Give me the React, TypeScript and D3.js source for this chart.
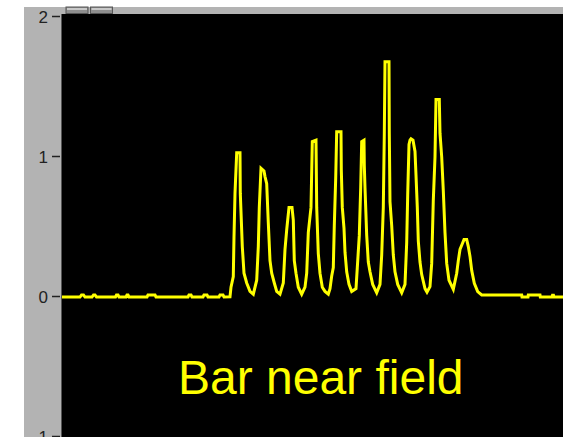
import React from "react";
import * as d3 from "d3";

// Axis ticks on the left panel
const yTicks = [2, 1, 0, -1];

// Trace samples: position along the scan and signal amplitude
const positions = [
  0, 18, 19.5, 21.5, 23, 30, 31.5, 33, 34.5, 53.5, 54.5, 56, 57, 64, 65, 66, 67, 85, 86, 93, 94,
  126, 127, 129, 130, 141, 142, 145, 146, 157, 158, 161, 162, 168,
  // peak 1
  169, 171.3, 172, 173, 174.7, 178, 178.3, 180.3, 182, 184.7, 188, 191.3,
  // peak 2
  194.7, 196.3, 197.3, 199, 202, 203, 204.7, 206.3, 208, 209.7, 212.3, 214.7, 218,
  // peak 3
  221.3, 223, 224.7, 225.7, 227, 230, 231.3, 232.3, 234, 236.3, 239.7,
  // peak 4
  243, 244.7, 246.3, 249, 250.3, 254, 254.7, 256.3, 258, 260.3, 263, 266.3,
  // peak 5
  268, 269.7, 271.3, 272.3, 273.7, 274.7, 279, 279.3, 280.3, 282, 283, 284.7, 287, 289.7,
  // peak 6
  294, 295.3, 297.3, 298.7, 299.7, 302, 302.3, 303, 304.7, 306.3, 308, 310.7, 314.7,
  // peak 7
  318, 319.7, 321.3, 322.3, 323, 327, 327.3, 328, 329.7, 331.3, 333, 335.7, 339.7,
  // peak 8
  343, 344.7, 345.7, 347, 348, 349, 351, 353, 354, 355.3, 356.3, 358, 359.7, 363, 365,
  // peak 9
  368, 369.7, 371.3, 373, 374, 377.3, 378, 379.7, 381.3, 383, 384.7, 387, 391.3,
  // peak 10
  394.7, 396.3, 398, 400.3, 402, 404.7, 406.3, 408, 409.7, 412.3, 415.7, 419.7,
  459.7, 460, 466, 466.3, 478, 478.3, 490, 490.5, 491.5, 492, 501,
];

const amplitudes = [
  0, 0, 0.015, 0.015, 0, 0, 0.015, 0.015, 0, 0, 0.015, 0.015, 0, 0, 0.015, 0.015, 0, 0, 0.015, 0.015, 0,
  0, 0.015, 0.015, 0, 0, 0.015, 0.015, 0, 0, 0.015, 0.015, 0, 0.002,
  0.07, 0.146, 0.43, 0.74, 1.03, 1.03, 0.74, 0.36, 0.17, 0.1, 0.04, 0.02,
  0.12, 0.36, 0.64, 0.92, 0.9, 0.86, 0.81, 0.53, 0.26, 0.17, 0.1, 0.04, 0.02,
  0.1, 0.34, 0.48, 0.55, 0.64, 0.64, 0.55, 0.26, 0.17, 0.07, 0.02,
  0.07, 0.17, 0.46, 0.64, 1.11, 1.12, 0.64, 0.31, 0.17, 0.07, 0.04, 0.02,
  0.06, 0.15, 0.21, 0.51, 0.85, 1.18, 1.18, 0.91, 0.64, 0.49, 0.32, 0.18, 0.09, 0.04,
  0.06, 0.21, 0.44, 0.78, 1.11, 1.12, 0.94, 0.78, 0.44, 0.25, 0.18, 0.09, 0.03,
  0.09, 0.3, 0.64, 1.16, 1.68, 1.68, 1.17, 0.68, 0.51, 0.3, 0.18, 0.09, 0.03,
  0.09, 0.39, 0.73, 1.09, 1.12, 1.13, 1.12, 1.04, 0.87, 0.64, 0.4, 0.25, 0.16, 0.06, 0.035,
  0.074, 0.24, 0.69, 1.0, 1.41, 1.41, 1.17, 1.0, 0.76, 0.46, 0.24, 0.12, 0.055,
  0.17, 0.26, 0.34, 0.38, 0.41, 0.41, 0.36, 0.29, 0.19, 0.098, 0.038, 0.015,
  0.015, 0, 0, 0.015, 0.015, 0, 0, 0.012, 0.012, 0, 0,
];

const title = "Bar near field";

const W = 563;
const H = 437;
const plotLeft = 62;
const plotTop = 14;

export default function App() {
  const x = d3.scaleLinear().domain([0, 501]).range([plotLeft, W]);
  const y = d3.scaleLinear().domain([-1, 2]).range([437, 17]);

  const data = positions.map((p, i) => [p, amplitudes[i]] as [number, number]);
  const path = d3
    .line<[number, number]>()
    .x((d) => x(d[0]))
    .y((d) => y(d[1]))
    .curve(d3.curveLinear)(data) as string;

  return (
    <svg
      width={W}
      height={H}
      style={{ position: "absolute", left: 0, top: 0, display: "block" }}
    >
      <rect x={0} y={0} width={W} height={H} fill="#ffffff" />
      {/* frame panel */}
      <rect x={24} y={7} width={W - 24} height={H - 7} fill="#b3b3b3" />
      {/* window buttons */}
      {[66, 90.5].map((bx) => (
        <g key={bx}>
          <rect x={bx} y={7} width={22} height={6.5} fill="#8e8e8e" stroke="#555" strokeWidth={1} />
          <rect x={bx + 1} y={8} width={20} height={2} fill="#c8c8c8" />
        </g>
      ))}
      {/* plot area */}
      <rect x={plotLeft - 1} y={plotTop} width={W - plotLeft + 1} height={H - plotTop} fill="#555555" />
      <rect x={plotLeft} y={plotTop} width={W - plotLeft} height={H - plotTop} fill="#000000" />
      <defs>
        <clipPath id="plotClip">
          <rect x={plotLeft} y={plotTop} width={W - plotLeft} height={H - plotTop} />
        </clipPath>
      </defs>
      {/* y axis ticks */}
      {yTicks.map((t) => (
        <g key={t}>
          <line x1={52} x2={60} y1={y(t) - 0.5} y2={y(t) - 0.5} stroke="#222" strokeWidth={1.5} />
          <text
            x={48}
            y={y(t)}
            dy="0.36em"
            textAnchor="end"
            fontFamily="'Liberation Sans', Arial, sans-serif"
            fontSize={17}
            fill="#222"
          >
            {t}
          </text>
        </g>
      ))}
      {/* signal trace */}
      <path
        d={path}
        fill="none"
        stroke="#ffff00"
        strokeWidth={3}
        strokeLinejoin="miter"
        clipPath="url(#plotClip)"
      />
      <text
        x={178}
        y={394}
        fontFamily="'Liberation Sans', Arial, sans-serif"
        fontSize={48}
        fill="#ffff00"
      >
        {title}
      </text>
    </svg>
  );
}
